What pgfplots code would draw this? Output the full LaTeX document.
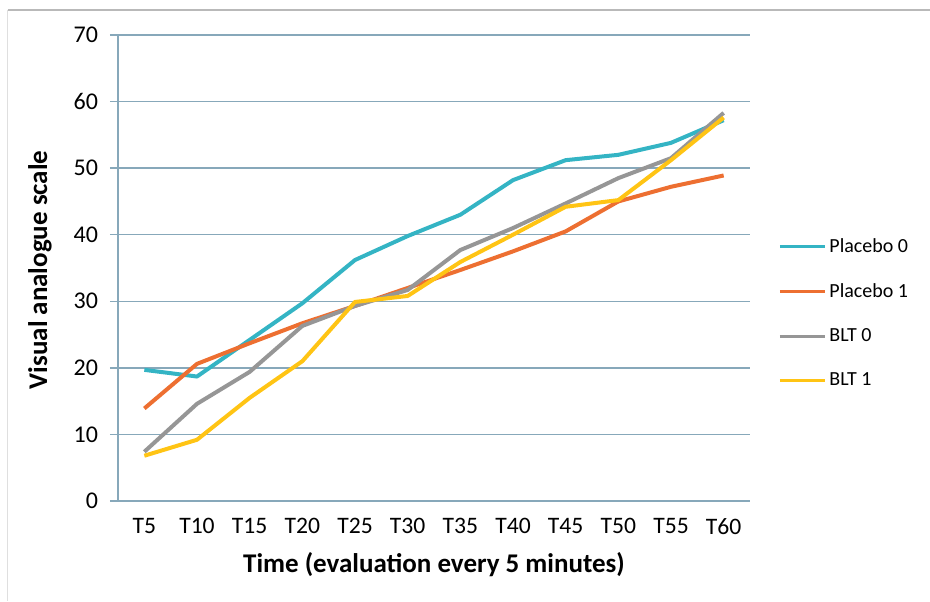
\documentclass[border=0pt]{standalone}
\usepackage{pgfplots}
\pgfplotsset{compat=1.18}
\usepackage{fontspec}
\setmainfont{Carlito}
\definecolor{cPl0}{RGB}{52,180,196}
\definecolor{cPl1}{RGB}{237,111,49}
\definecolor{cB0}{RGB}{150,150,150}
\definecolor{cB1}{RGB}{255,196,20}
\definecolor{gridc}{RGB}{135,168,186}
\begin{document}
\begin{tikzpicture}
\useasboundingbox (-59pt,-50pt) rectangle (406pt,250.5pt);
\draw[gray!55, line width=0.6pt] (-55pt,245.5pt) -- (406pt,245.5pt);
\draw[gray!25, line width=0.5pt] (-55pt,245.5pt) -- (-55pt,-50pt);
\begin{axis}[
  at={(0pt,0pt)}, anchor=south west,
  scale only axis, width=316pt, height=233pt,
  xmin=-0.5, xmax=11.5, ymin=0, ymax=70,
  axis x line=bottom, axis y line=left,
  axis line style={gridc, line width=0.75pt, -},
  xtick={0,...,11},
  xticklabels={T5,T10,T15,T20,T25,T30,T35,T40,T45,T50,T55,T60},
  x tick label style={font=\fontsize{11.8}{13}\selectfont, yshift=-1pt},
  major x tick style={draw=none},
  extra x ticks={-0.5,0.5,...,11.5},
  extra x tick labels={},
  extra x tick style={major tick length=4pt, tick align=outside, tick style={gridc, line width=0.75pt}, grid=none},
  ytick={0,10,...,70},
  y tick label style={font=\fontsize{12}{13}\selectfont, xshift=-2.5pt},
  ymajorgrids,
  major grid style={gridc, line width=0.75pt},
  major tick length=4pt, tick align=outside,
  tick style={gridc, line width=0.75pt},
  /pgf/number format/assume math mode=true,
  xlabel={Time (evaluation every 5 minutes)},
  ylabel={Visual analogue scale},
  xlabel style={font=\bfseries\fontsize{13.5}{15}\selectfont, at={(axis description cs:0.5,0)}, anchor=center, yshift=-32pt},
  ylabel style={font=\bfseries\fontsize{13.5}{15}\selectfont, at={(axis description cs:0,0.496)}, anchor=center, yshift=39pt},
  legend style={at={(axis description cs:1,0.403)}, anchor=west, xshift=14pt, draw=none, fill=none,
    font=\fontsize{10}{12}\selectfont, row sep=11pt, inner sep=0pt,
    nodes={inner sep=1.5pt}},
  legend cell align=left,
  legend image code/.code={\draw[#1, line width=1.5pt] (0pt,0pt) -- (22.5pt,0pt);},
  every axis plot/.append style={line width=2pt, line join=round},
  clip=false,
]
\addplot[cPl0] coordinates {(0,19.7)(1,18.7)(2,24.2)(3,29.7)(4,36.2)(5,39.8)(6,43.0)(7,48.2)(8,51.2)(9,52.0)(10,53.8)(11,57.2)};
\addplot[cPl1] coordinates {(0,13.9)(1,20.6)(2,23.7)(3,26.7)(4,29.3)(5,32.0)(6,34.7)(7,37.5)(8,40.5)(9,45.0)(10,47.2)(11,48.9)};
\addplot[cB0] coordinates {(0,7.4)(1,14.6)(2,19.4)(3,26.3)(4,29.3)(5,31.7)(6,37.7)(7,41.0)(8,44.7)(9,48.5)(10,51.5)(11,58.3)};
\addplot[cB1] coordinates {(0,6.8)(1,9.2)(2,15.5)(3,21.0)(4,29.9)(5,30.8)(6,35.9)(7,40.0)(8,44.2)(9,45.2)(10,51.2)(11,57.6)};
\legend{Placebo 0,Placebo 1,BLT 0,BLT 1}
\end{axis}
\end{tikzpicture}
\end{document}
